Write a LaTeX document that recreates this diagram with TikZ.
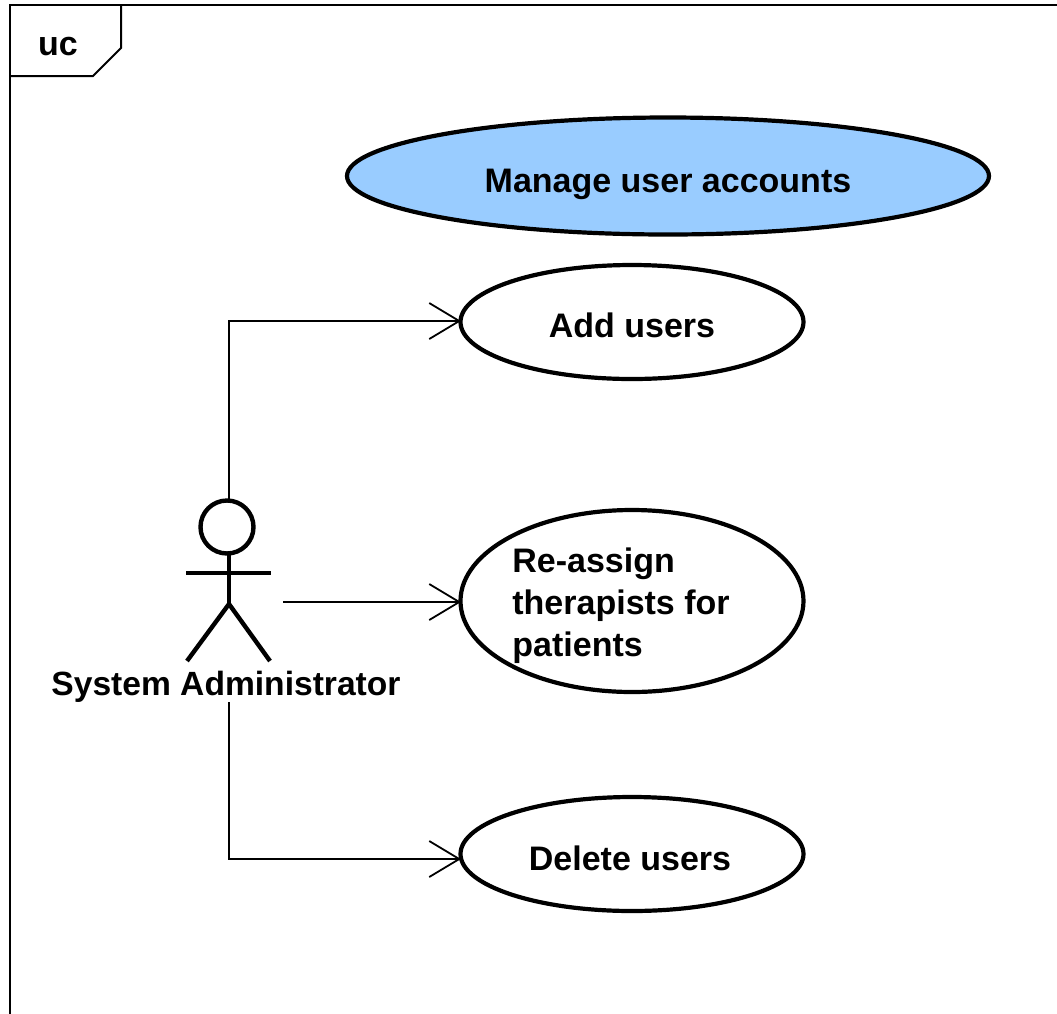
\documentclass[tikz,border=0pt]{standalone}
\usepackage{fontspec}
\setmainfont{Liberation Sans}
\usetikzlibrary{positioning, calc, arrows.meta, shapes}
\newlength{\pxu}
\setlength{\pxu}{.5pt}
\tikzset{usecase/.style={draw, ellipse, line width=2.1pt, fill=white, minimum width=343\pxu, minimum height=114\pxu, inner sep=0pt}}
\tikzset{link/.style={draw, line width=.9pt, -{Straight Barb[length=15pt, width=18pt, line width=.9pt]}}}
\tikzset{limb/.style={draw, line width=2.2pt}}
\tikzset{caption/.style={font=\fontsize{17}{21}\bfseries}}
\begin{document}
\begin{tikzpicture}[x=.5pt, y=-.5pt]
      \useasboundingbox (0,0) rectangle (1057,1014);
      \coordinate (tl) at (9.5,5);
      \coordinate (tr) at (1057,5);
      \coordinate (bl) at (9.5,1014);
      \draw[line width=1pt] (tr) -- (tl) -- (bl);
      \draw[line width=1pt] (9.5,76) -- (93,76) -- (121,48) -- (121,5);
      \node[caption] (uc) at (58,47) {uc};

      \node[usecase, fill={rgb,255:red,153;green,204;blue,255}, minimum width=642\pxu, minimum height=117\pxu] (manage) at (668,176) {};
      \node[caption] (managetext) at (668,184) {Manage user accounts};
      \node[usecase] (add) at (632,322) {};
      \node[caption] (addtext) at (632,325) {Add users};
      \node[usecase, minimum height=182\pxu] (assign) at (632,601) {};
      \node[caption, anchor=west, align=left, inner sep=0pt] (assigntext) at (512,606) {Re-assign\\therapists for\\patients};
      \node[usecase] (delete) at (632,854) {};
      \node[caption] (deletetext) at (630,858) {Delete users};

      % actor
      \node[draw, circle, line width=2.2pt, minimum size=53\pxu, inner sep=0pt] (head) at (227,527) {};
      \coordinate (neck) at (229,554);
      \coordinate (hip) at (229,604);
      \draw[limb] (neck) -- (hip);
      \draw[limb] (186,573) -- (271,573);
      \draw[limb] (187,661) -- (hip) -- (270,661);
      \node[caption, font=\fontsize{16.8}{21}\bfseries] (admin) at (226,687) {System Administrator};

      \coordinate (addstart) at (229,500);
      \coordinate (addend) at (461,321);
      \coordinate (assignstart) at (283,602);
      \coordinate (assignend) at (461,602);
      \coordinate (deletestart) at (229,702);
      \coordinate (deleteend) at (461,859);
      \draw[link] (addstart) |- (addend);
      \draw[link] (assignstart) -- (assignend);
      \draw[link] (deletestart) |- (deleteend);
    \end{tikzpicture}
\end{document}
